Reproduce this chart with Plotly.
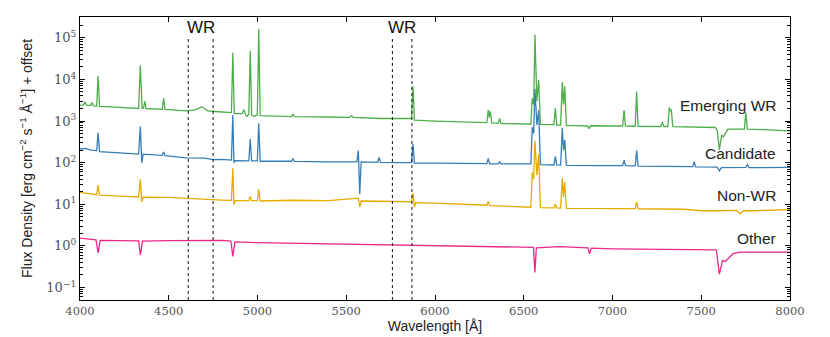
import math
import plotly.graph_objects as go

# Emerging WR spectrum (wavelength in Angstrom, flux + offset)
emerging_wave = [4000, 4020, 4028, 4036, 4060, 4068, 4076, 4094, 4102, 4110, 4200, 4330, 4340, 4350,
                 4358, 4365, 4372, 4463, 4471, 4479, 4600, 4650, 4686, 4720, 4800, 4853, 4861, 4869,
                 4915, 4923, 4931, 4940, 4951, 4959, 4967, 4980, 4999, 5007, 5015, 5100, 5192, 5200,
                 5208, 5400, 5520, 5530, 5540, 5700, 5868, 5876, 5884, 6000, 6200, 6292, 6300, 6306,
                 6312, 6320, 6356, 6364, 6372, 6450, 6540, 6548, 6556, 6563, 6574, 6584, 6594, 6670,
                 6678, 6686, 6708, 6717, 6724, 6731, 6740, 6800, 6860, 6868, 6876, 7000, 7057, 7065,
                 7073, 7128, 7136, 7144, 7273, 7281, 7289, 7312, 7320, 7326, 7331, 7340, 7450, 7580,
                 7590, 7602, 7615, 7625, 7650, 7700, 7743, 7751, 7759, 7850, 8000]
emerging_flux = [2400, 2450, 2900, 2400, 2350, 2800, 2300, 2250, 12000, 2250, 2150, 2000, 22000, 2000,
                 2050, 3000, 2000, 1900, 3500, 1900, 1750, 1850, 2200, 1750, 1650, 1600, 44000, 1500,
                 1500, 1900, 1450, 1300, 1450, 48000, 1400, 1300, 1400, 160000, 1350, 1300, 1280, 1500,
                 1270, 1250, 1230, 1350, 1220, 1150, 1150, 6800, 1050, 1000, 950, 920, 1850, 1200,
                 1700, 900, 880, 1150, 870, 860, 850, 3500, 2500, 120000, 3000, 9800, 830, 820,
                 2050, 800, 800, 8700, 2500, 6800, 780, 780, 760, 650, 770, 760, 760, 1830,
                 760, 750, 5100, 750, 740, 940, 740, 740, 2130, 1700, 1900, 730, 720, 700,
                 600, 204, 450, 420, 640, 650, 640, 1600, 640, 620, 580]

# Candidate spectrum
candidate_wave = [4000, 4030, 4060, 4094, 4102, 4110, 4200, 4330, 4340, 4348, 4356, 4463, 4471, 4479,
                  4600, 4700, 4750, 4800, 4853, 4861, 4867, 4875, 4951, 4959, 4967, 4999, 5007, 5015,
                  5100, 5192, 5200, 5208, 5400, 5560, 5568, 5576, 5584, 5677, 5685, 5693, 5800, 5868,
                  5876, 5884, 6000, 6200, 6292, 6300, 6308, 6356, 6364, 6372, 6450, 6540, 6548, 6556,
                  6563, 6574, 6584, 6594, 6670, 6678, 6686, 6708, 6717, 6724, 6731, 6740, 6900, 7057,
                  7065, 7073, 7128, 7136, 7144, 7300, 7452, 7460, 7468, 7590, 7602, 7615, 7750, 7760,
                  7770, 8000]
candidate_flux = [210, 220, 200, 195, 530, 185, 175, 160, 740, 100, 160, 150, 180, 148,
                  130, 128, 118, 120, 115, 1400, 100, 112, 110, 370, 110, 110, 890, 108,
                  108, 108, 125, 107, 105, 104, 194, 17.6, 104, 102, 134, 102, 100, 100,
                  280, 98, 98, 96, 95, 126, 94, 94, 105, 93, 93, 93, 710, 500,
                  6000, 800, 1800, 90, 88, 141, 88, 87, 680, 200, 350, 86, 85, 85,
                  115, 85, 84, 194, 83, 80, 80, 105, 79, 78, 64, 76, 77, 90,
                  76, 77]

# Non-WR spectrum
nonwr_wave = [4000, 4094, 4102, 4110, 4200, 4330, 4340, 4348, 4356, 4500, 4800, 4853, 4861, 4867,
              4875, 4951, 4959, 4967, 4999, 5007, 5015, 5200, 5400, 5568, 5576, 5584, 5868, 5876,
              5884, 5892, 6000, 6292, 6300, 6308, 6540, 6548, 6556, 6563, 6574, 6584, 6594, 6670,
              6678, 6686, 6708, 6717, 6724, 6731, 6740, 7000, 7128, 7136, 7144, 7400, 7500, 7600,
              7700, 7720, 7740, 7800, 8000]
nonwr_flux = [19.4, 17, 29, 16.5, 16, 15, 40, 11.4, 14.8, 14.7, 12.6, 12.4, 73, 10,
              12.3, 12.2, 15.5, 12.2, 12.2, 23, 12, 12.5, 12.2, 14, 8.6, 12, 11.5, 18.6,
              8.5, 11, 10.7, 9.5, 11.6, 9.3, 8.5, 58, 40, 335, 50, 160, 8.3, 8.2,
              10, 8.2, 8.1, 42, 15, 34, 8, 8, 7.9, 11.2, 7.8, 7.6, 7.0, 7.0,
              7.1, 5.9, 7.0, 7.0, 7.4]

# Other spectrum
other_wave = [4000, 4050, 4090, 4102, 4114, 4330, 4340, 4352, 4500, 4800, 4850, 4861, 4873, 5000,
              5100, 5500, 6000, 6300, 6500, 6555, 6563, 6571, 6700, 6862, 6870, 6880, 7000, 7500,
              7585, 7602, 7620, 7635, 7680, 7720, 8000]
other_flux = [1.53, 1.45, 1.4, 0.68, 1.35, 1.32, 0.61, 1.3, 1.34, 1.35, 1.3, 0.56, 1.25, 1.2,
              1.18, 1.12, 1.02, 1.0, 0.93, 0.92, 0.23, 0.9, 0.96, 0.9, 0.64, 0.88, 0.85, 0.82,
              0.8, 0.21, 0.45, 0.42, 0.65, 0.71, 0.71]

series_names = ["Emerging WR", "Candidate", "Non-WR", "Other"]
series_colors = ["#4daf4a", "#377eb8", "#e6ab02", "#e7298a"]
label_levels = [2300, 162, 16, 1.5]   # flux where the right-hand labels sit
wr_bands = [(4610, 4750), (5760, 5870)]
y_exponents = [-1, 0, 1, 2, 3, 4, 5]

waves = [emerging_wave, candidate_wave, nonwr_wave, other_wave]
fluxes = [emerging_flux, candidate_flux, nonwr_flux, other_flux]

fig = go.Figure()
for name, color, w, f in zip(series_names, series_colors, waves, fluxes):
    fig.add_trace(go.Scatter(x=w, y=f, mode="lines", name=name,
                             line=dict(color=color, width=1.3)))

for name, lvl in zip(series_names, label_levels):
    fig.add_annotation(x=7935, y=math.log10(lvl), text=name, showarrow=False,
                       xanchor="right", yanchor="middle",
                       font=dict(family="Liberation Sans", size=15.5, color="#222"))

for lo, hi in wr_bands:
    for xv in (lo, hi):
        fig.add_shape(type="line", x0=xv, x1=xv, y0=0, y1=0.93, yref="paper",
                      line=dict(color="#111", width=1, dash="dot"))
    fig.add_annotation(x=(lo + hi) / 2, y=1, yref="paper", yanchor="top", yshift=1,
                       text="WR", showarrow=False,
                       font=dict(family="Liberation Sans", size=17, color="#111"))

axis_common = dict(showline=True, linecolor="black", linewidth=1.2, mirror="ticks",
                   ticks="inside", ticklen=5, tickcolor="black", showgrid=False,
                   zeroline=False, automargin=False)

minor_vals = [m * 10 ** e for e in range(-2, 6) for m in range(2, 10)]

fig.update_xaxes(range=[4000, 8000], dtick=500, tick0=4000,
                 tickfont=dict(family="DejaVu Serif", size=11.5, color="#555"),
                 title=dict(text="Wavelength [Å]", standoff=4,
                            font=dict(family="Liberation Sans", size=14, color="#222")),
                 **axis_common)
fig.update_yaxes(type="log", range=[-1.3, 5.5],
                 tickvals=[10 ** e for e in y_exponents],
                 ticktext=["10<sup>%s</sup>" % str(e).replace("-", "−") for e in y_exponents],
                 tickfont=dict(family="DejaVu Serif", size=13, color="#555"),
                 minor=dict(ticks="inside", ticklen=2.5, tickcolor="black", tickvals=minor_vals),
                 title=dict(text="Flux Density [erg cm<sup>−2</sup> s<sup>−1</sup> Å<sup>−1</sup>] + offset",
                            standoff=10,
                            font=dict(family="Liberation Sans", size=14, color="#222")),
                 **axis_common)

# page body adds an 8 px offset, so margins are trimmed to keep the plot box in place
fig.update_layout(width=830, height=337, margin=dict(l=72, r=48, t=9, b=45),
                  plot_bgcolor="white", paper_bgcolor="white", showlegend=False)

fig.write_html("out.html")
